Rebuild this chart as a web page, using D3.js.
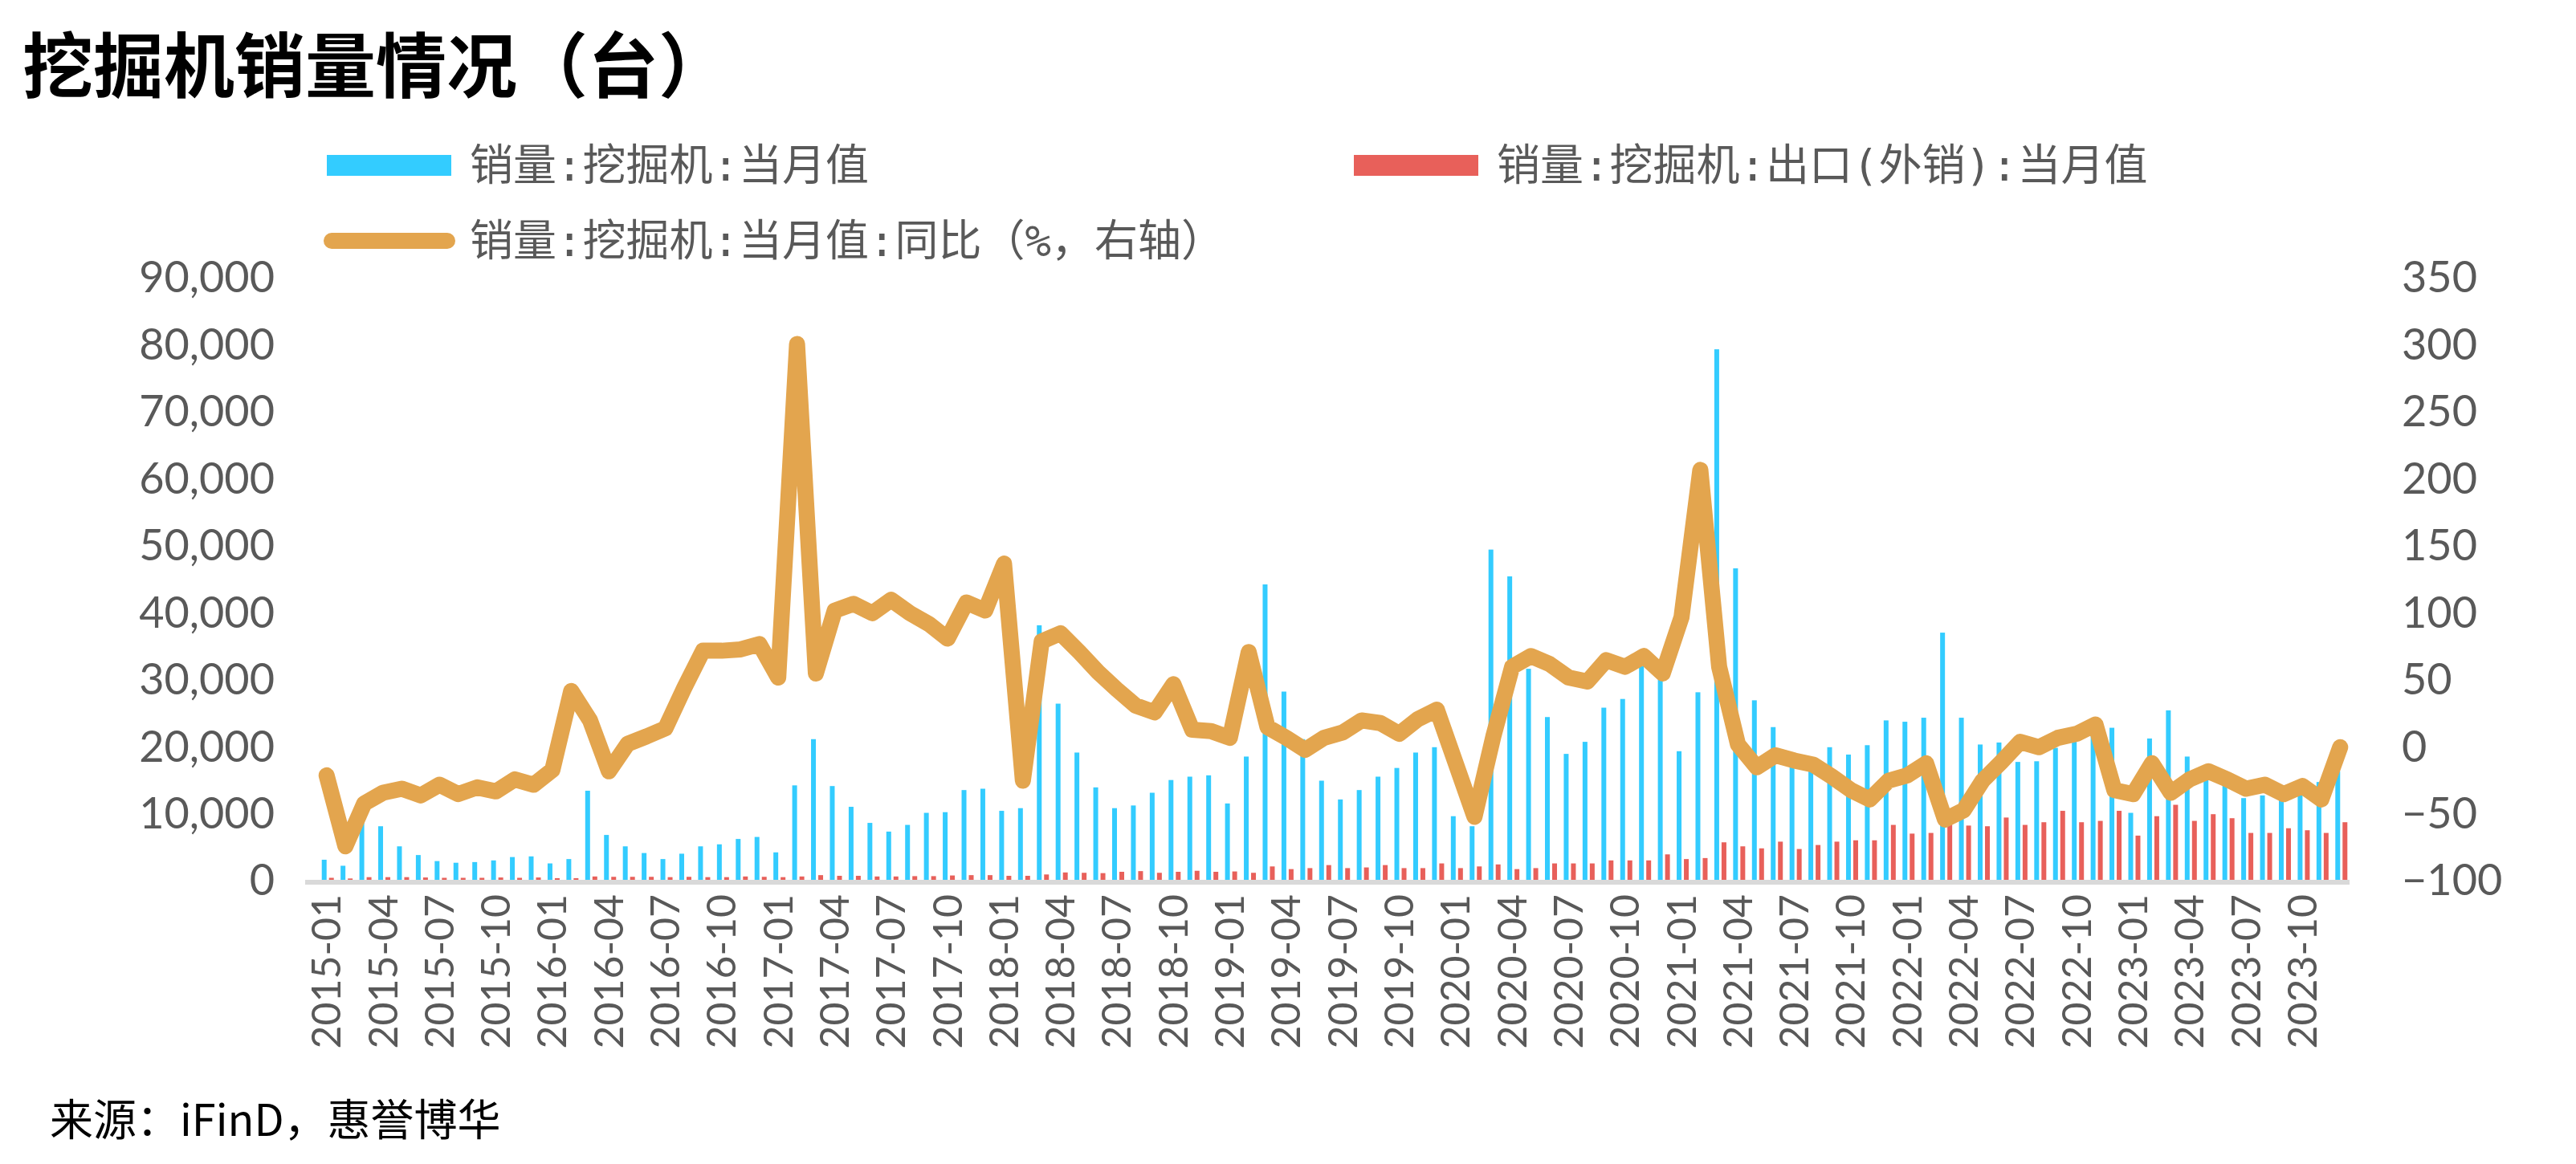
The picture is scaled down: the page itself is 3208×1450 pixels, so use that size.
<!DOCTYPE html>
<html>
<head>
<meta charset="utf-8">
<script src="https://cdn.jsdelivr.net/npm/d3@7"></script>
<style>
  body { margin: 0; background: #fff; }
  text { font-family: "Noto Sans CJK SC", "Noto Sans", sans-serif; }
</style>
</head>
<body>
<div id="canva"></div>
<script>
// 2015-01 .. 2023-12
const months = d3.range(108).map(i => `${2015 + Math.floor(i / 12)}-${String(i % 12 + 1).padStart(2, "0")}`);

const sales = [
  3000, 2100, 9000, 8000, 5000, 3700, 2800, 2550, 2650, 2900, 3400, 3500,
  2450, 3100, 13300, 6700, 5000, 4000, 3100, 3900, 5000, 5300, 6100, 6400,
  4100, 14100, 21000, 14000, 10900, 8500, 7200, 8200, 10000, 10100, 13400, 13600,
  10300, 10700, 38000, 26300, 19000, 13800, 10700, 11100, 13000, 14900, 15400, 15600,
  11400, 18400, 44100, 28100, 21000, 14800, 12000, 13400, 15400, 16700, 19000, 19800,
  9500, 8000, 49300, 45300, 31500, 24300, 18800, 20600, 25700, 27000, 31900, 31300,
  19200, 28000, 79200, 46500, 26800, 22800, 17600, 18000, 19800, 18700, 20100, 23800,
  23600, 24200, 36900, 24200, 20200, 20500, 17600, 17700, 19700, 20900, 22000, 22700,
  10000, 21100, 25300, 18400, 15600, 14500, 12200, 12600, 12200, 13300, 14600, 16200
];

const exportSales = [
  300, 200, 400, 400, 400, 350, 300, 300, 300, 350, 300, 350,
  250, 250, 500, 450, 450, 450, 400, 450, 400, 400, 500, 450,
  400, 500, 700, 600, 600, 500, 500, 550, 550, 650, 700, 700,
  600, 600, 800, 1100, 1050, 1000, 1200, 1300, 1050, 1200, 1350, 1200,
  1250, 1050, 2000, 1600, 1750, 2200, 1750, 1850, 2200, 1750, 1750, 2450,
  1750, 2000, 2300, 1600, 1750, 2450, 2450, 2450, 2900, 2900, 2900, 3800,
  3100, 3250, 5600, 5000, 4700, 5700, 4600, 5200, 5700, 5900, 5900, 8200,
  6900, 7000, 8400, 8100, 8000, 9300, 8200, 8600, 10300, 8600, 8800, 10300,
  6600, 9500, 11200, 8800, 9800, 9200, 7000, 7000, 7700, 7400, 7000, 8600
];

const yoy = [
  -22, -75, -43, -35, -32, -37, -29, -36, -31, -34, -25, -29,
  -18, 41, 19, -19, 1.5, 7, 13, 43, 71, 71, 72, 76,
  51, 300, 54, 101, 106, 99, 109, 99, 91, 80, 107, 101,
  136, -26, 78, 84, 70, 55, 42, 30, 25, 46, 12, 11,
  6, 70, 14, 6, -3, 6, 10, 19, 17, 9, 20, 27,
  -13, -53, 7, 59, 67, 61, 51, 48, 64, 59, 67, 54,
  96, 206, 59, 1, -16, -7, -11, -14, -23, -33, -40, -26,
  -22, -13, -55, -48, -26, -12, 3, -1, 6, 9, 16, -33,
  -36, -13, -35, -25, -19, -25, -32, -29, -36, -30, -40, -1
];

const leftTicks = d3.range(0, 90001, 10000);
const rightTicks = d3.range(-100, 351, 50);

const W = 3208, H = 1450;
const margin = { top: 345, bottom: 354, left: 395, right: 282 };
const textColor = "#595959";

const svg = d3.select("#canva").append("svg")
    .attr("width", W)
    .attr("height", H);

const x = d3.scaleBand()
    .domain(months)
    .range([margin.left, W - margin.right]);

const yL = d3.scaleLinear().domain([0, 90000]).range([H - margin.bottom, margin.top]);
const yR = d3.scaleLinear().domain([-100, 350]).range([H - margin.bottom, margin.top]);

// title
svg.append("text")
    .attr("x", 28).attr("y", 114)
    .attr("font-size", 88).attr("font-weight", "bold").attr("fill", "#000")
    .text("挖掘机销量情况（台）");

// legend
const legend = [
  { label: "销量:挖掘机:当月值", color: "#33ccff", x: 407, y: 206, type: "bar" },
  { label: "销量:挖掘机:出口(外销):当月值", color: "#e8605a", x: 1686, y: 206, type: "bar" },
  { label: "销量:挖掘机:当月值:同比（%，右轴）", color: "#e3a54e", x: 407, y: 300, type: "line" }
];
legend.forEach(l => {
  if (l.type === "bar") {
    svg.append("rect").attr("x", l.x).attr("y", l.y - 13).attr("width", 155).attr("height", 26).attr("fill", l.color);
  } else {
    svg.append("line").attr("x1", l.x + 6).attr("x2", l.x + 150).attr("y1", l.y).attr("y2", l.y)
        .attr("stroke", l.color).attr("stroke-width", 20).attr("stroke-linecap", "round");
  }
  svg.append("text").attr("x", l.x + 178).attr("y", l.y + 19)
      .attr("font-size", 54).attr("fill", textColor)
      .style("font-family", "'DejaVu Sans Mono', 'Noto Sans CJK SC', sans-serif")
      .text(l.label);
});

// bars
const bw = 6;
svg.append("g").attr("fill", "#33ccff")
  .selectAll("rect").data(sales).join("rect")
    .attr("x", (d, i) => x(months[i]) + x.bandwidth() / 2 - bw)
    .attr("y", d => yL(d))
    .attr("width", bw)
    .attr("height", d => yL(0) - yL(d));

svg.append("g").attr("fill", "#e8605a")
  .selectAll("rect").data(exportSales).join("rect")
    .attr("x", (d, i) => x(months[i]) + x.bandwidth() / 2 + 3)
    .attr("y", d => yL(d))
    .attr("width", bw)
    .attr("height", d => yL(0) - yL(d));

// baseline
svg.append("line")
    .attr("x1", margin.left - 15).attr("x2", W - margin.right)
    .attr("y1", yL(0) + 3).attr("y2", yL(0) + 3)
    .attr("stroke", "#d9d9d9").attr("stroke-width", 6);

// yoy line
const line = d3.line()
    .x((d, i) => x(months[i]) + x.bandwidth() / 2)
    .y(d => yR(d));

svg.append("path")
    .datum(yoy)
    .attr("fill", "none")
    .attr("stroke", "#e3a54e")
    .attr("stroke-width", 20)
    .attr("stroke-linejoin", "round")
    .attr("stroke-linecap", "round")
    .attr("d", line);

// axes
function leftAxis(g) {
  g.attr("transform", `translate(${margin.left - 50}, 0)`)
    .call(d3.axisLeft(yL).tickValues(leftTicks).tickSize(0).tickFormat(d3.format(",")));
  g.select(".domain").remove();
  g.selectAll("text").attr("font-size", 54).attr("fill", textColor)
    .style("font-family", "Lato, 'Noto Sans', sans-serif").attr("dy", "0.35em");
}

function rightAxis(g) {
  g.attr("transform", `translate(${W - margin.right + 62}, 0)`)
    .call(d3.axisRight(yR).tickValues(rightTicks).tickSize(0));
  g.select(".domain").remove();
  g.selectAll("text").attr("font-size", 54).attr("fill", textColor)
    .style("font-family", "Lato, 'Noto Sans', sans-serif").attr("dy", "0.35em");
}

function bottomAxis(g) {
  g.attr("transform", `translate(0, ${yL(0) + 18})`)
    .call(d3.axisBottom(x).tickValues(months.filter((m, i) => i % 3 === 0)).tickSize(0));
  g.select(".domain").remove();
  g.selectAll("text")
    .attr("font-size", 50).attr("fill", textColor)
    .style("font-family", "Lato, 'Noto Sans', sans-serif")
    .attr("transform", "rotate(-90)")
    .attr("text-anchor", "end")
    .attr("x", 0).attr("y", 0).attr("dx", 0).attr("dy", "0.35em");
}

svg.append("g").call(leftAxis);
svg.append("g").call(rightAxis);
svg.append("g").call(bottomAxis);

// source
svg.append("text")
    .attr("x", 62).attr("y", 1415)
    .attr("font-size", 54).attr("fill", "#000")
    .text("来源：iFinD，惠誉博华");
</script>
</body>
</html>
